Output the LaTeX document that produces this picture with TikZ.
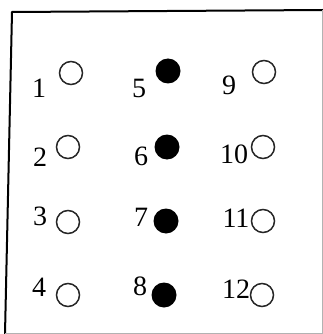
\documentclass[tikz,border=0pt]{standalone}
\usepackage{fontspec}
\setmainfont{Liberation Serif}
\begin{document}
\begin{tikzpicture}[x=1pt, y=-1pt,
  hole/.style={draw=black!85, line width=1.5pt, circle, minimum size=23pt, inner sep=0pt},
  pin/.style={fill=black, circle, minimum size=25pt, inner sep=0pt},
  num/.style={inner sep=0pt, font=\fontsize{28}{32}\selectfont}]
\useasboundingbox (0,0) rectangle (323,334);
% frame
\draw[line width=2pt, line cap=round, line join=round] (5,334) -- (12,12) -- (323,10);
\draw[line width=1pt, black!30] (322,10) -- (322,333) -- (5,333);
% open holes
\foreach \n/\x/\y in {1/71/73, 2/68/147, 3/68/222, 4/68/295, 9/264/72, 10/263/147, 11/263/221, 12/262/295} {
  \node[hole] (c\n) at (\x,\y) {};
}
% filled holes
\foreach \n/\x/\y in {5/168/71, 6/167/147, 7/166/221, 8/164/295} {
  \node[pin] (c\n) at (\x,\y) {};
}
% numbers
\foreach \n/\x/\y in {1/39/88, 2/40/157, 3/40/216, 4/39/287, 5/139/88, 6/141/156, 7/141/217, 8/140/286, 9/229/85, 10/234/154, 11/236/218, 12/236/289} {
  \node[num] (n\n) at (\x,\y) {\n};
}
\end{tikzpicture}
\end{document}
